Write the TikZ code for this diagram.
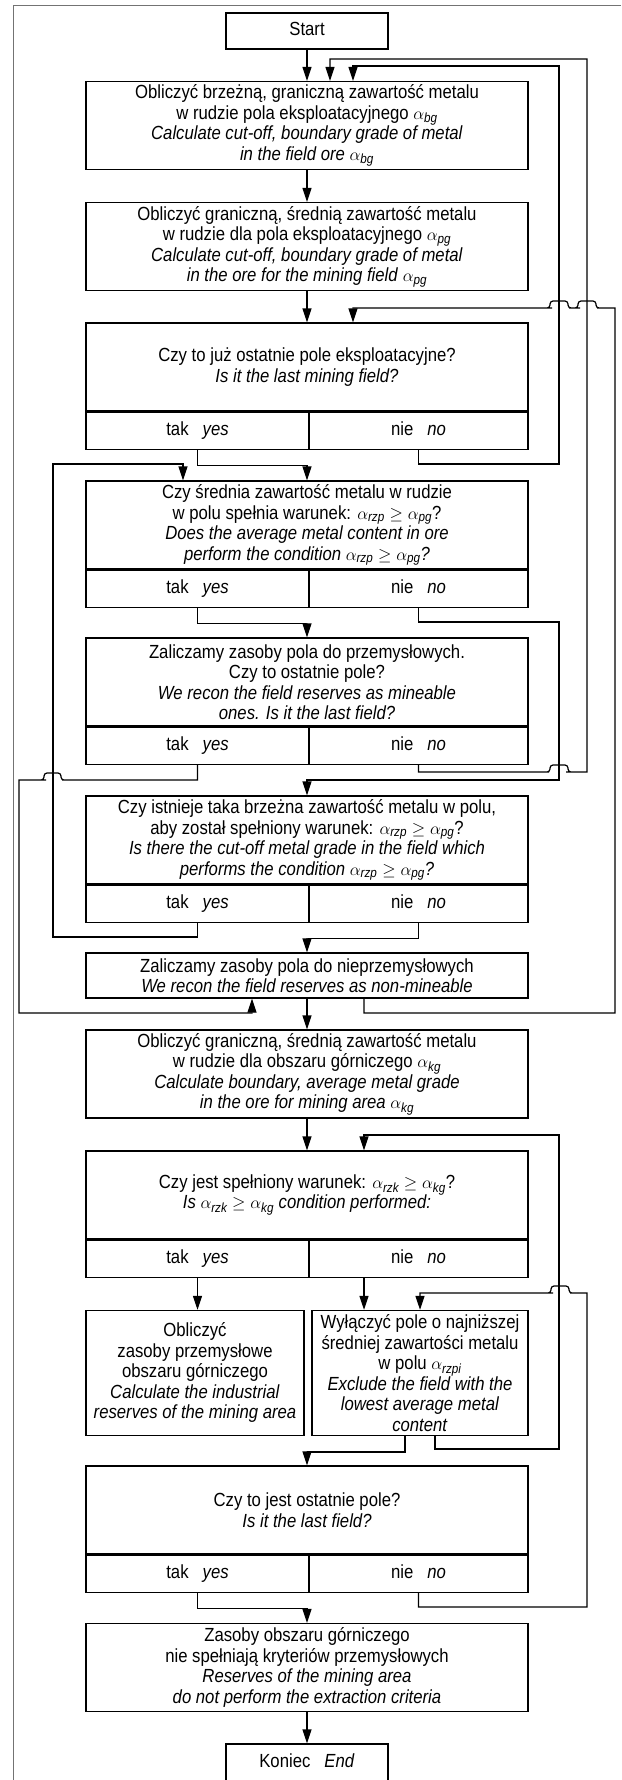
\documentclass[tikz,border=0pt]{standalone}
\usepackage{amsmath}
\usepackage{fontspec}
\setmainfont{Liberation Sans}[FakeStretch=0.88]
\usetikzlibrary{arrows.meta,positioning}

\begin{document}
\begin{tikzpicture}[->,>={Triangle[length=14pt,width=9pt]},line width=1.2pt,
		x=1pt,y=-1pt,node distance=121pt,
		every node/.style={font=\fontsize{19}{20.5}\selectfont,align=center,inner sep=0pt},
		box/.style={draw,rectangle,minimum width=442pt,minimum height=88pt},
		term/.style={draw,rectangle,minimum width=162pt,minimum height=36pt,text height=13.5pt,text depth=4pt},
		ans/.style={draw,rectangle,minimum height=37pt,text height=13.5pt,text depth=4pt}]

		\useasboundingbox (0,0) rectangle (621,1780);
		\draw[-,black!55,line width=0.8pt] (621,5) -- (13,5) -- (13,1780);

		\node[term] (start) at (307,31) {Start};
		\node[box, node distance=94.5pt] (b1) [below of=start] {Obliczyć brzeżną, graniczną zawartość metalu\\
			w rudzie pola eksploatacyjnego $\alpha_{\textit{bg}}$\\
			\textit{Calculate cut-off, boundary grade of metal}\\
			\textit{in the field ore} $\alpha_{\textit{bg}}$};
		\node[box] (b2) [below of=b1] {Obliczyć graniczną, średnią zawartość metalu\\
			w rudzie dla pola eksploatacyjnego $\alpha_{\textit{pg}}$\\
			\textit{Calculate cut-off, boundary grade of metal}\\
			\textit{in the ore for the mining field} $\alpha_{\textit{pg}}$};
		\node[box, node distance=120.5pt] (q1) [below of=b2] {Czy to już ostatnie pole eksploatacyjne?\\
			\textit{Is it the last mining field?}};
		\node[ans, anchor=north west, minimum width=223pt] (q1tak) at (q1.south west) {tak\hspace{14pt}\textit{yes}};
		\node[ans, anchor=north east, minimum width=219pt] (q1nie) at (q1.south east) {nie\hspace{14pt}\textit{no}};
		\node[box, node distance=158pt] (q2) [below of=q1] {Czy średnia zawartość metalu w rudzie\\
			w polu spełnia warunek: $\alpha_{\textit{rzp}}\geq\alpha_{\textit{pg}}$?\\
			\textit{Does the average metal content in ore}\\
			\textit{perform the condition} $\alpha_{\textit{rzp}}\geq\alpha_{\textit{pg}}$\textit{?}};
		\node[ans, anchor=north west, minimum width=223pt] (q2tak) at (q2.south west) {tak\hspace{14pt}\textit{yes}};
		\node[ans, anchor=north east, minimum width=219pt] (q2nie) at (q2.south east) {nie\hspace{14pt}\textit{no}};
		\node[box, node distance=157pt] (q3) [below of=q2] {Zaliczamy zasoby pola do przemysłowych.\\
			Czy to ostatnie pole?\\
			\textit{We recon the field reserves as mineable}\\
			\textit{ones. Is it the last field?}};
		\node[ans, anchor=north west, minimum width=223pt] (q3tak) at (q3.south west) {tak\hspace{14pt}\textit{yes}};
		\node[ans, anchor=north east, minimum width=219pt] (q3nie) at (q3.south east) {nie\hspace{14pt}\textit{no}};
		\node[box, node distance=158pt] (q4) [below of=q3] {Czy istnieje taka brzeżna zawartość metalu w polu,\\
			aby został spełniony warunek: $\alpha_{\textit{rzp}}\geq\alpha_{\textit{pg}}$?\\
			\textit{Is there the cut-off metal grade in the field which}\\
			\textit{performs the condition} $\alpha_{\textit{rzp}}\geq\alpha_{\textit{pg}}$\textit{?}};
		\node[ans, anchor=north west, minimum width=223pt] (q4tak) at (q4.south west) {tak\hspace{14pt}\textit{yes}};
		\node[ans, anchor=north east, minimum width=219pt] (q4nie) at (q4.south east) {nie\hspace{14pt}\textit{no}};
		\node[box, minimum height=45pt, node distance=135.5pt] (b7) [below of=q4] {Zaliczamy zasoby pola do nieprzemysłowych\\
			\textit{We recon the field reserves as non-mineable}};
		\node[box, node distance=98.5pt] (b8) [below of=b7] {Obliczyć graniczną, średnią zawartość metalu\\
			w rudzie dla obszaru górniczego $\alpha_{\textit{kg}}$\\
			\textit{Calculate boundary, average metal grade}\\
			\textit{in the ore for mining area} $\alpha_{\textit{kg}}$};
		\node[box] (q5) [below of=b8] {Czy jest spełniony warunek: $\alpha_{\textit{rzk}}\geq\alpha_{\textit{kg}}$?\\
			\textit{Is} $\alpha_{\textit{rzk}}\geq\alpha_{\textit{kg}}$ \textit{condition performed:}};
		\node[ans, anchor=north west, minimum width=223pt] (q5tak) at (q5.south west) {tak\hspace{14pt}\textit{yes}};
		\node[ans, anchor=north east, minimum width=219pt] (q5nie) at (q5.south east) {nie\hspace{14pt}\textit{no}};
		\node[box, anchor=north west, minimum width=218pt, minimum height=125pt] (b10) at ([yshift=-32pt]q5tak.south west) {Obliczyć\\
			zasoby przemysłowe\\
			obszaru górniczego\\
			\textit{Calculate the industrial}\\
			\textit{reserves of the mining area}};
		\node[box, anchor=north east, minimum width=216pt, minimum height=125pt] (b11) at ([yshift=-32pt]q5nie.south east) {Wyłączyć pole o najniższej\\
			średniej zawartości metalu\\
			w polu $\alpha_{\textit{rzpi}}$\\
			\textit{Exclude the field with the}\\
			\textit{lowest average metal}\\
			\textit{content}};
		\node[box, node distance=315pt] (q6) [below of=q5] {Czy to jest ostatnie pole?\\
			\textit{Is it the last field?}};
		\node[ans, anchor=north west, minimum width=223pt] (q6tak) at (q6.south west) {tak\hspace{14pt}\textit{yes}};
		\node[ans, anchor=north east, minimum width=219pt] (q6nie) at (q6.south east) {nie\hspace{14pt}\textit{no}};
		\node[box, node distance=157.5pt] (b13) [below of=q6] {Zasoby obszaru górniczego\\
			nie spełniają kryteriów przemysłowych\\
			\textit{Reserves of the mining area}\\
			\textit{do not perform the extraction criteria}};
		\node[term, minimum height=37pt, node distance=95pt] (end) [below of=b13] {Koniec\hspace{14pt}\textit{End}};

		\path
		(start) edge (b1)
		(b1) edge (b2)
		(b2) edge (q1)
		(b7) edge (b8)
		(b8) edge (q5)
		(b13) edge (end);

		% field loop
		\draw (q1tak.south) -- ++(0,16) -| (q2.north);
		\draw (q1nie.south) |- (559,464) -- (559,66) -| ([xshift=46pt]b1.north);
		\draw (q2tak.south) -- ++(0,16) -| (q3.north);
		\draw (q2nie.south) |- (559,622) -- (559,780) -| (q4.north);
		\draw (q3nie.south) |- (549,772) [rounded corners=3pt] -- (550,772) -- (550,765) -- (568,765) -- (568,772) -- (569,772) [sharp corners] -- (587,772) -- (587,59) -| ([xshift=23pt]b1.north);
		\draw (q3tak.south) |- (62,780) [rounded corners=3pt] -- (61,780) -- (61,773) -- (44,773) -- (44,780) -- (43,780) [sharp corners] -- (19,780) -- (19,1013) -| ([xshift=-55pt]b7.south);
		\draw (q4tak.south) |- (53,937) -- (53,464) -| ([xshift=-124pt]q2.north);
		\draw (q4nie.south) -- ++(0,16) -| (b7.north);
		\draw ([xshift=57pt]b7.south) |- (615,1013) -- (615,308) -- (597,308) [rounded corners=3pt] -- (596,308) -- (596,301) -- (578,301) -- (578,308) -- (577,308) [sharp corners] -- (569,308) [rounded corners=3pt] -- (568,308) -- (568,301) -- (550,301) -- (550,308) -- (549,308) [sharp corners] -| ([xshift=46pt]q1.north);

		% mining area loop
		\draw (q5tak.south) -- (q5tak.south |- b10.north);
		\draw ([xshift=-54.5pt]q5nie.south) -- ([xshift=-54.5pt]q5nie.south |- b11.north);
		\draw ([xshift=-15pt]b11.south) -- ++(0,16) -| (q6.north);
		\draw ([xshift=15pt]b11.south) |- (559,1449) -- (559,1135) -| ([xshift=57pt]q5.north);
		\draw (q6nie.south) |- (587,1607) -- (587,1293) -- (570,1293) [rounded corners=3pt] -- (569,1293) -- (569,1286) -- (551,1286) -- (551,1293) -- (550,1293) [sharp corners] -| (b11.north);
		\draw (q6tak.south) -- ++(0,16) -| (b13.north);
	\end{tikzpicture}
\end{document}
